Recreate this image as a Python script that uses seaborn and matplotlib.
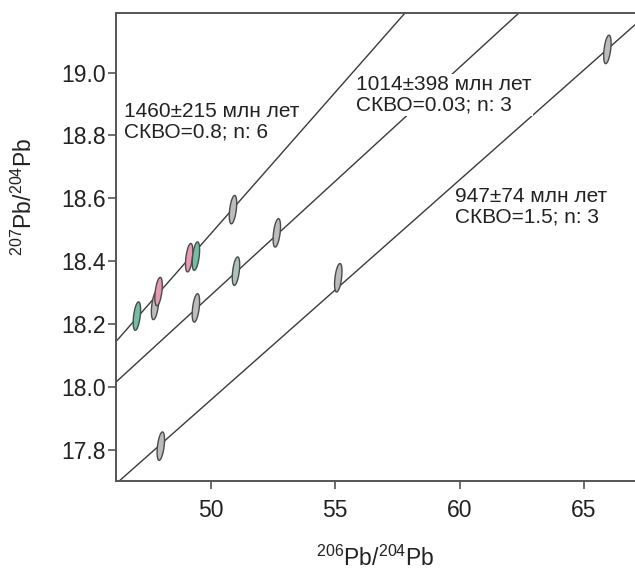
import numpy as np
import pandas as pd
import matplotlib
matplotlib.use("Agg")
import matplotlib.pyplot as plt
from matplotlib.path import Path
from matplotlib.transforms import Affine2D
import seaborn as sns

# ---- data ----
pb206 = [47.04, 47.77, 47.91, 49.14, 49.41, 50.90,
         49.41, 51.02, 52.66,
         48.00, 55.13, 65.94]
pb207 = [18.225, 18.259, 18.303, 18.411, 18.416, 18.564,
         18.251, 18.368, 18.490,
         17.811, 18.347, 19.074]
kind = ["green", "gray", "pink", "pink", "green", "gray",
        "gray", "greengray", "gray",
        "gray", "gray", "gray"]

iso_intercept = [18.144, 18.015, 17.691]   # value at x = 46.2
iso_slope = [0.0901, 0.0726, 0.0701]
iso_labels = ["1460±215 млн лет\nСКВО=0.8; n: 6",
              "1014±398 млн лет\nСКВО=0.03; n: 3",
              "947±74 млн лет\nСКВО=1.5; n: 3"]
label_x = [46.53, 55.84, 59.82]
label_y = [18.845, 18.929, 18.572]
label_box = [False, True, False]

xlim = (46.2, 67.05)
ylim = (17.70, 19.19)
xticks = [50, 55, 60, 65]
yticks = [17.8, 18.0, 18.2, 18.4, 18.6, 18.8, 19.0]

palette = {"gray": "#bcbcbc", "green": "#74bfa3", "pink": "#e69bb0",
           "greengray": "#a9c4b8"}

sns.set_style("ticks")
plt.rcParams["font.family"] = ["Liberation Sans", "DejaVu Sans"]
plt.rcParams["mathtext.fontset"] = "custom"
plt.rcParams["mathtext.rm"] = "Liberation Sans"
plt.rcParams["mathtext.it"] = "Liberation Sans"

fig = plt.figure(figsize=(6.35, 5.69), dpi=100)
ax = fig.add_axes([116/635, (569-481)/569, (635-116)/635, (481-13)/569])

# isochron lines
xs = np.array(xlim)
for b, m in zip(iso_intercept, iso_slope):
    df_line = pd.DataFrame({"x": xs, "y": b + m * (xs - xlim[0])})
    sns.lineplot(data=df_line, x="x", y="y", ax=ax, color="#3a3a3a",
                 lw=1.0, zorder=2, legend=False)

# ellipse marker
t = np.linspace(0, 2*np.pi, 60)
verts = np.column_stack([0.23*np.cos(t), np.sin(t)])
verts = Affine2D().rotate_deg(-7).transform(verts)
ell = Path(verts, closed=True)

df = pd.DataFrame({"x": pb206, "y": pb207, "kind": kind})
sns.scatterplot(data=df, x="x", y="y", hue="kind", palette=palette,
                marker=ell, s=420, edgecolor="#4a4a4a", linewidth=1.0,
                ax=ax, legend=False, zorder=3)

for txt, tx, ty, boxed in zip(iso_labels, label_x, label_y, label_box):
    kw = {}
    if boxed:
        kw["bbox"] = dict(facecolor="white", edgecolor="none", pad=1.0)
    ax.text(tx, ty, txt, fontsize=15, color="#222222", ha="left", va="center",
            linespacing=1.1, zorder=4, **kw)

ax.set_xlim(*xlim)
ax.set_ylim(*ylim)
ax.set_xticks(xticks)
ax.set_yticks(yticks)
ax.set_xticklabels([str(v) for v in xticks])
ax.set_yticklabels([f"{v:.1f}" for v in yticks])
ax.tick_params(axis="both", labelsize=16.5, length=6, width=1.2,
               color="#555555", labelcolor="#222222", pad=1.5, direction="out")
ax.tick_params(axis="x", pad=7)
for side in ["left", "bottom", "top"]:
    ax.spines[side].set_color("#555555")
    ax.spines[side].set_linewidth(1.4)
ax.spines["right"].set_visible(False)

ax.set_xlabel(r"$^{206}$Pb/$^{204}$Pb", fontsize=16.5, color="#222222")
ax.set_ylabel(r"$^{207}$Pb/$^{204}$Pb", fontsize=16.5, color="#222222")
ax.xaxis.set_label_coords(0.5, -0.138)
ax.yaxis.set_label_coords(-0.152, 0.607)

fig.savefig("out.png", dpi=100, facecolor="white")
